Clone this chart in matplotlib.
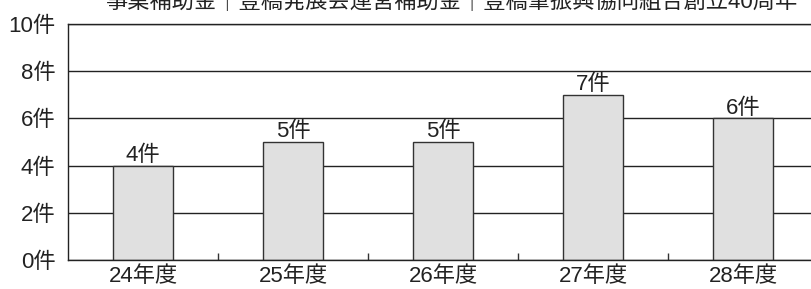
import matplotlib
matplotlib.use('Agg')
from matplotlib import pyplot as plt

plt.rcParams['font.family'] = ['Liberation Sans', 'Noto Sans CJK JP', 'DejaVu Sans']

years = ['24年度', '25年度', '26年度', '27年度', '28年度']
counts = [4, 5, 5, 7, 6]
yticks = [0, 2, 4, 6, 8, 10]
title = '事業補助金｜豊橋発展会運営補助金｜豊橋筆振興協同組合創立40周年'

fig = plt.figure(figsize=(8.11, 2.89), dpi=100)
ax = fig.add_axes([68 / 811, 29 / 289, 750 / 811, 236 / 289])

x = range(len(years))
ax.set_axisbelow(True)
ax.yaxis.grid(True, color='#222222', linewidth=1.0)
ax.bar(x, counts, width=0.4, color='#e0e0e0', edgecolor='#333333', linewidth=1.0, zorder=2)

for i, c in enumerate(counts):
    ax.text(i, c - 0.02, f'{c}件', ha='center', va='bottom', fontsize=16, color='#222222')

ax.set_xlim(-0.5, len(years) - 0.5)
ax.set_ylim(0, 10)
ax.set_yticks(yticks)
ax.set_yticklabels([f'{v}件' for v in yticks], fontsize=16, color='#222222')
ax.tick_params(axis='y', length=0, pad=9)

# category labels, minor ticks between groups
ax.set_xticks(list(x))
ax.set_xticklabels(years, fontsize=16, color='#222222')
ax.tick_params(axis='x', length=0, pad=4)
ax.set_xticks([i + 0.5 for i in range(len(years) - 1)], minor=True)
ax.tick_params(axis='x', which='minor', direction='in', length=5, width=1.0, color='#333333')

for s in ax.spines.values():
    s.set_color('#222222')
    s.set_linewidth(1.0)

fig.text(452 / 811, 1 - 2 / 289, title, ha='center', va='center', fontsize=16, color='#222222')

plt.savefig('out.png', dpi=100)
